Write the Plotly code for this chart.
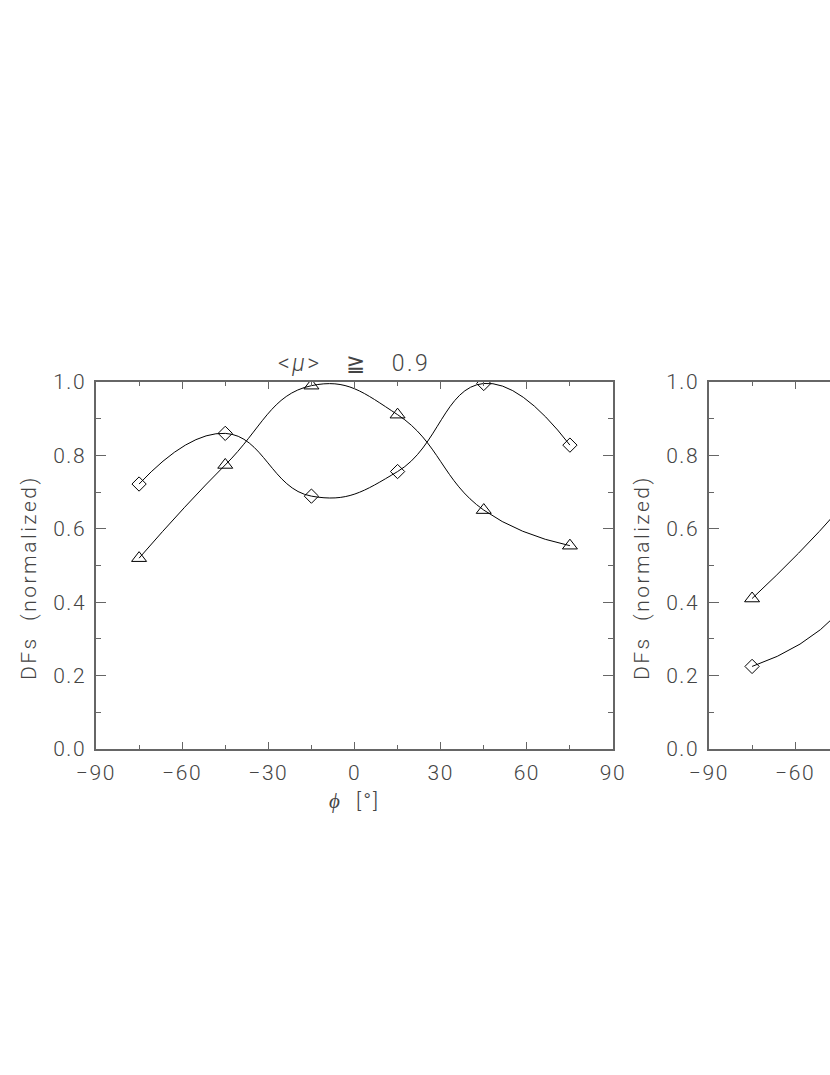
import plotly.graph_objects as go

# viewing angle phi [deg]
phi = [-75, -45, -15, 15, 45, 75]

# left panel, <mu> >= 0.9
left_diamond = [0.722, 0.860, 0.689, 0.756, 0.996, 0.828]
left_triangle = [0.520, 0.774, 0.990, 0.911, 0.651, 0.554]

# right panel (cut off in the page)
right_diamond = [0.225, 0.37, 0.80, 1.00, 0.72, 0.50]
right_triangle = [0.410, 0.65, 0.95, 1.00, 0.80, 0.60]

x_ticks = [-90, -60, -30, 0, 30, 60, 90]
x_tick_labels = ["\u221290", "\u221260", "\u221230", "0", "30", "60", "90"]
y_ticks = [0.0, 0.2, 0.4, 0.6, 0.8, 1.0]
y_tick_labels = ["0.0", "0.2", "0.4", "0.6", "0.8", "1.0"]

W, H = 830, 1075
FONT = dict(family="Roboto", size=21, color="#444444", weight=300)
AXIS_COL = "#666666"


def px_x(p):
    return p / W


def px_y(p):
    return (H - p) / H


def spaced(s, gap=1.5):
    # wide letter spacing, like the plotting font of the original
    return f'<span style="letter-spacing:{gap}px">{s}</span>'


fig = go.Figure()


def add_series(xs, ys, symbol, size, xa, ya):
    fig.add_trace(
        go.Scatter(
            x=xs,
            y=ys,
            mode="lines+markers",
            line=dict(color="black", width=1, shape="spline", smoothing=1.3),
            marker=dict(symbol=symbol, size=size, color="black",
                        line=dict(color="black", width=1)),
            xaxis=xa,
            yaxis=ya,
            showlegend=False,
            cliponaxis=True,
        )
    )


add_series(phi, left_diamond, "diamond-open", 11, "x", "y")
add_series(phi, left_triangle, "triangle-up-open", 13, "x", "y")
add_series(phi, right_diamond, "diamond-open", 11, "x2", "y2")
add_series(phi, right_triangle, "triangle-up-open", 13, "x2", "y2")

y_bot = px_y(749)
y_top = px_y(382)

xaxis_common = dict(
    tickvals=x_ticks,
    ticktext=[spaced(t) for t in x_tick_labels],
    ticks="inside",
    ticklen=7,
    tickwidth=1,
    tickcolor=AXIS_COL,
    minor=dict(ticks="inside", dtick=15, tick0=-90, ticklen=4, tickcolor=AXIS_COL),
    showline=True,
    linecolor=AXIS_COL,
    linewidth=1.5,
    mirror="allticks",
    showgrid=False,
    zeroline=False,
    tickfont=FONT,
    ticklabelstandoff=4,
    automargin=False,
)
yaxis_common = dict(
    range=[0, 1.0],
    tickvals=y_ticks,
    ticktext=[spaced(t) for t in y_tick_labels],
    ticks="inside",
    ticklen=10,
    tickwidth=1,
    tickcolor=AXIS_COL,
    minor=dict(ticks="inside", dtick=0.1, tick0=0, ticklen=5, tickcolor=AXIS_COL),
    showline=True,
    linecolor=AXIS_COL,
    linewidth=1.5,
    showgrid=False,
    zeroline=False,
    tickfont=FONT,
    ticklabelstandoff=4,
    automargin=False,
)

ytitle = spaced("DFs  (normalized)", 2.5)

fig.update_layout(
    width=W,
    height=H,
    margin=dict(l=0, r=0, t=0, b=0),
    plot_bgcolor="white",
    paper_bgcolor="white",
    xaxis=dict(xaxis_common, domain=[px_x(96), px_x(613)], range=[-90, 90], anchor="y"),
    yaxis=dict(yaxis_common, domain=[y_bot, y_top], anchor="x", mirror="allticks"),
    xaxis2=dict(xaxis_common, domain=[px_x(709), 1.0],
                range=[-90, -90 + (830 - 709) / 2.872], anchor="y2"),
    yaxis2=dict(yaxis_common, domain=[y_bot, y_top], anchor="x2", mirror=False),
    annotations=[
        dict(text=spaced("&lt;<i>\u03bc</i>&gt;   \u2267   0.9", 2.5), x=px_x(354), y=px_y(363),
             xref="paper", yref="paper", showarrow=False, font=dict(FONT, size=23),
             xanchor="center", yanchor="middle"),
        dict(text=spaced("<i>\u03d5</i>  [\u00b0]", 2), x=px_x(354), y=px_y(801),
             xref="paper", yref="paper", showarrow=False, font=FONT,
             xanchor="center", yanchor="middle"),
        dict(text=ytitle, x=px_x(29), y=px_y(578), textangle=-90,
             xref="paper", yref="paper", showarrow=False, font=FONT,
             xanchor="center", yanchor="middle"),
        dict(text=ytitle, x=px_x(642), y=px_y(578), textangle=-90,
             xref="paper", yref="paper", showarrow=False, font=FONT,
             xanchor="center", yanchor="middle"),
    ],
)

# drop the default page margin so the figure fills the window exactly
fig.write_html("out.html",
               config={"displayModeBar": False},
               post_script="document.body.style.margin='0';document.body.style.overflow='hidden';")
